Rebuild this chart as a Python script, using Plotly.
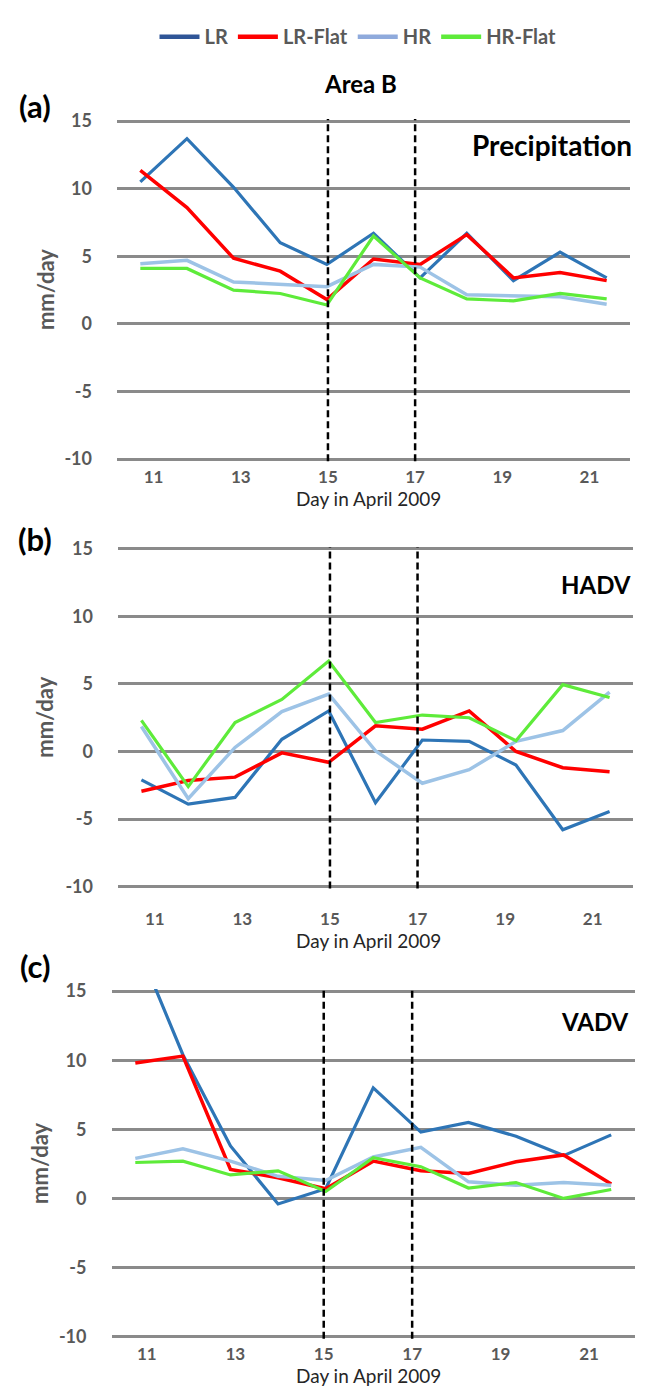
import plotly.graph_objects as go

# ---- data -------------------------------------------------------------
days = [11, 12, 13, 14, 15, 16, 17, 18, 19, 20, 21]
tick_days = [11, 13, 15, 17, 19, 21]
event_days = [15, 17]
y_ticks = [-10, -5, 0, 5, 10, 15]

series_names = ["LR", "LR-Flat", "HR", "HR-Flat"]

precip_lr = [10.5, 13.7, 10.1, 6.0, 4.4, 6.7, 3.4, 6.7, 3.2, 5.3, 3.4]
precip_lr_flat = [11.35, 8.6, 4.85, 3.9, 1.8, 4.8, 4.4, 6.6, 3.4, 3.8, 3.2]
precip_hr = [4.45, 4.7, 3.1, 2.9, 2.75, 4.4, 4.2, 2.15, 2.05, 2.0, 1.45]
precip_hr_flat = [4.1, 4.1, 2.5, 2.25, 1.4, 6.5, 3.4, 1.85, 1.7, 2.25, 1.85]

hadv_lr = [-2.1, -3.9, -3.4, 0.9, 3.0, -3.8, 0.85, 0.75, -1.0, -5.8, -4.45]
hadv_lr_flat = [-2.95, -2.15, -1.9, -0.1, -0.8, 1.9, 1.65, 3.0, 0.0, -1.2, -1.5]
hadv_hr = [1.85, -3.5, 0.3, 2.95, 4.25, 0.05, -2.35, -1.35, 0.75, 1.55, 4.4]
hadv_hr_flat = [2.3, -2.6, 2.15, 3.85, 6.7, 2.15, 2.7, 2.5, 0.8, 4.95, 4.0]

vadv_lr = [18.7, 10.4, 3.8, -0.4, 0.7, 8.0, 4.8, 5.5, 4.5, 3.1, 4.6]
vadv_lr_flat = [9.8, 10.3, 2.1, 1.5, 0.7, 2.7, 2.0, 1.8, 2.65, 3.15, 1.05]
vadv_hr = [2.9, 3.6, 2.7, 1.6, 1.3, 3.0, 3.7, 1.2, 0.95, 1.15, 0.95]
vadv_hr_flat = [2.6, 2.7, 1.7, 2.0, 0.5, 2.95, 2.3, 0.75, 1.15, 0.0, 0.65]

panel_labels = ["(a)", "(b)", "(c)"]
panel_titles = ["Precipitation", "HADV", "VADV"]

# ---- styling ----------------------------------------------------------
W, H = 646, 1393
FONT = "Lato"
line_colors = ["#2E75B6", "#FF0000", "#9DC3E6", "#5EEB3A"]
legend_colors = ["#2F5597", "#FF0000", "#8FAADC", "#5EEB3A"]
line_widths = [3.2, 3.5, 3.5, 3.2]
GRID = "#8A8A8A"
TXT_GRAY = "#595959"
Y_PAD = 0.15  # extra data units above 15 / below -10

# per-panel geometry in page pixels
panels = [
    dict(left=117, right=630, y15=112.5, ym10=455, lab_rng=[10.16, 21.93],
         tick_off=18, xt_y=495, ttl_y=137, ttl_x=634, ttl_size=28,
         lab_y=97, mm_x=45),
    dict(left=118, right=633, y15=546, ym10=888, lab_rng=[10.16, 21.92],
         tick_off=32, xt_y=943, ttl_y=582, ttl_x=633, ttl_size=24,
         lab_y=536, mm_x=45),
    dict(left=111.5, right=635, y15=994, ym10=1344, lab_rng=[10.2, 22.04],
         tick_off=17, xt_y=1383, ttl_y=1025, ttl_x=631, ttl_size=24,
         lab_y=969, mm_x=40),
]

panel_data = [
    [precip_lr, precip_lr_flat, precip_hr, precip_hr_flat],
    [hadv_lr, hadv_lr_flat, hadv_hr, hadv_hr_flat],
    [vadv_lr, vadv_lr_flat, vadv_hr, vadv_hr_flat],
]


def px_x(px):
    return px / W


def px_y(py):
    return 1 - py / H


fig = go.Figure()
layout = dict(
    width=W, height=H,
    margin=dict(l=0, r=0, t=0, b=0),
    paper_bgcolor="white", plot_bgcolor="white",
    font=dict(family=FONT, color=TXT_GRAY),
    showlegend=True,
    legend=dict(orientation="h", x=px_x(358), xanchor="center",
                y=px_y(27), yanchor="middle", itemwidth=40,
                font=dict(family=FONT, size=20, color=TXT_GRAY, weight="bold"),
                bgcolor="rgba(0,0,0,0)", tracegroupgap=0, itemclick=False),
)
shapes = []
annotations = []

for i, (p, values) in enumerate(zip(panels, panel_data)):
    n = i + 1
    xa = "x" if n == 1 else f"x{n}"
    ya = "y" if n == 1 else f"y{n}"
    la = f"x{n + 3}"
    unit = (p["ym10"] - p["y15"]) / 25.0
    y_dom = [px_y(p["ym10"] + Y_PAD * unit), px_y(p["y15"] - Y_PAD * unit)]
    x_dom = [px_x(p["left"]), px_x(p["right"])]

    for name, vals, col, lw in zip(series_names, values, line_colors, line_widths):
        fig.add_trace(go.Scatter(x=days, y=vals, mode="lines", name=name,
                                 line=dict(color=col, width=lw),
                                 xaxis=xa, yaxis=ya, showlegend=False,
                                 hoverinfo="skip"))

    layout["xaxis" + ("" if n == 1 else str(n))] = dict(
        domain=x_dom, anchor=ya, range=[10.5, 21.5], showgrid=False,
        zeroline=False, showticklabels=False, showline=False, ticks="")
    layout[f"xaxis{n + 3}"] = dict(
        domain=x_dom, anchor=ya, overlaying=xa, range=p["lab_rng"],
        tickmode="array", tickvals=tick_days, ticktext=[str(d) for d in tick_days],
        showgrid=False, zeroline=False, showline=False, ticks="",
        ticklabelstandoff=p["tick_off"] - 14,
        tickfont=dict(family=FONT, size=17, color=TXT_GRAY, weight="bold"))
    layout["yaxis" + ("" if n == 1 else str(n))] = dict(
        domain=y_dom, anchor=xa, range=[-10 - Y_PAD, 15 + Y_PAD],
        tickmode="array", tickvals=y_ticks, ticktext=[str(v) for v in y_ticks],
        showgrid=True, gridcolor=GRID, gridwidth=3, zeroline=False,
        showline=False, ticks="", ticklabelstandoff=24,
        tickfont=dict(family=FONT, size=18, color=TXT_GRAY, weight="bold"))

    # event markers
    for d in event_days:
        shapes.append(dict(type="line", xref=la, yref=f"{ya} domain",
                           x0=d, x1=d, y0=0, y1=1,
                           line=dict(color="black", width=2.5, dash="7px,4px")))

    annotations += [
        dict(text="Day in April 2009", x=px_x(368), y=px_y(p["xt_y"]),
             xref="paper", yref="paper", showarrow=False,
             xanchor="center", yanchor="middle",
             font=dict(family=FONT, size=19, color="#262626")),
        dict(text="mm/day", x=px_x(p["mm_x"]),
             y=px_y((p["y15"] + p["ym10"]) / 2), textangle=-90,
             xref="paper", yref="paper", showarrow=False,
             xanchor="center", yanchor="middle",
             font=dict(family=FONT, size=22, color=TXT_GRAY, weight="bold")),
        dict(text=panel_titles[i], x=px_x(p["ttl_x"]), y=px_y(p["ttl_y"]),
             xref="paper", yref="paper", showarrow=False,
             xanchor="right", yanchor="middle",
             font=dict(family=FONT, size=p["ttl_size"], color="black",
                       weight="bold")),
        dict(text=panel_labels[i], x=px_x(35), y=px_y(p["lab_y"]),
             xref="paper", yref="paper", showarrow=False,
             xanchor="center", yanchor="middle",
             font=dict(family=FONT, size=31, color="black", weight="bold")),
    ]

annotations.append(dict(text="Area B", x=px_x(360), y=px_y(74),
                        xref="paper", yref="paper", showarrow=False,
                        xanchor="center", yanchor="middle",
                        font=dict(family=FONT, size=24, color="black",
                                  weight="bold")))

# legend entries
for name, col in zip(series_names, legend_colors):
    fig.add_trace(go.Scatter(x=[None], y=[None], mode="lines", name=name,
                             line=dict(color=col, width=4.5),
                             xaxis="x", yaxis="y", showlegend=True))

layout["shapes"] = shapes
layout["annotations"] = annotations
fig.update_layout(**layout)

fig.write_html("out.html")
